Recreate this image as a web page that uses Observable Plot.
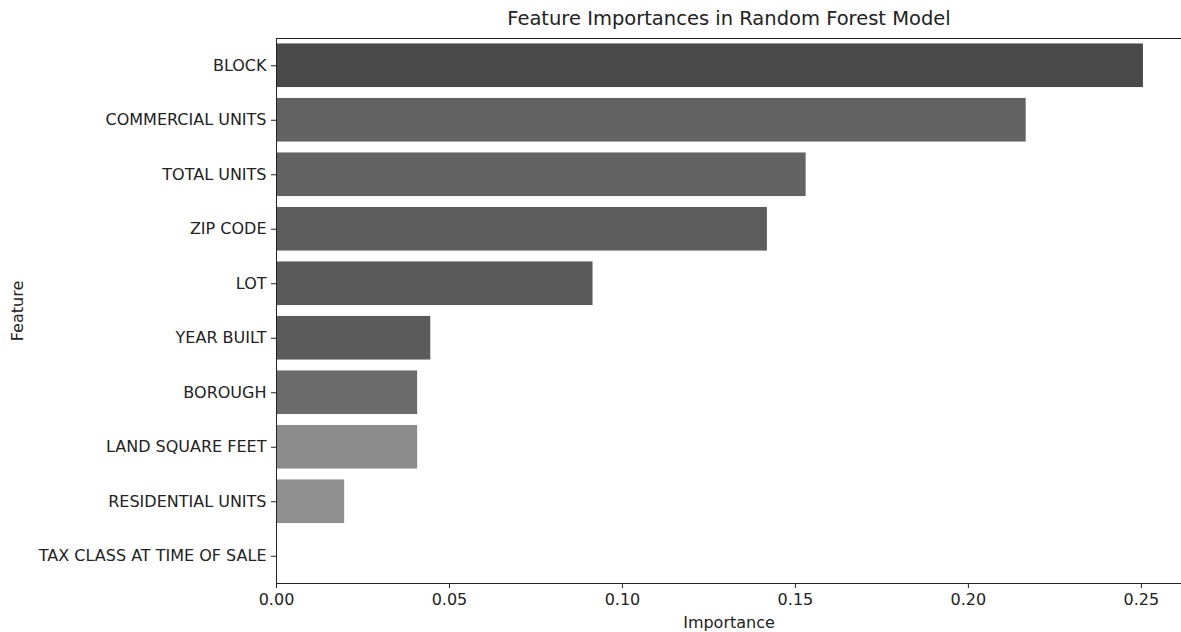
<!DOCTYPE html>
<html>
<head>
<meta charset="utf-8">
<script src="https://cdn.jsdelivr.net/npm/d3@7"></script>
<script src="https://cdn.jsdelivr.net/npm/@observablehq/plot@0.6"></script>
<style>
  html, body { margin: 0; padding: 0; background: #fff; }
</style>
</head>
<body>
<div id="chart"></div>
<script>
const features = ["BLOCK", "COMMERCIAL UNITS", "TOTAL UNITS", "ZIP CODE", "LOT", "YEAR BUILT", "BOROUGH", "LAND SQUARE FEET", "RESIDENTIAL UNITS", "TAX CLASS AT TIME OF SALE"];
const importances = [0.2506, 0.2167, 0.1531, 0.1419, 0.0915, 0.0446, 0.0408, 0.0408, 0.0197, 0.0];
const barColors = ["#4a4a4a", "#626262", "#636363", "#5d5d5d", "#5a5a5a", "#5b5b5b", "#6b6b6b", "#8c8c8c", "#8f8f8f", "#909090"];
const xTicks = [0, 0.05, 0.10, 0.15, 0.20, 0.25];
const titleText = "Feature Importances in Random Forest Model";

const data = features.map((f, i) => ({feature: f, importance: importances[i]}));

const chart = Plot.plot({
  width: 1181,
  height: 632,
  marginLeft: 276,
  marginRight: 0,
  marginTop: 38,
  marginBottom: 49,
  style: {fontFamily: "DejaVu Sans", fontSize: "16px", color: "#222", background: "#fff"},
  x: {domain: [0, 0.2616], ticks: xTicks, tickFormat: d3.format(".2f")},
  y: {domain: features, paddingInner: 0.2, paddingOuter: 0.1, round: false},
  color: {domain: features, range: barColors},
  marks: [
    Plot.barX(data, {x: "importance", y: "feature", fill: "feature"}),
    Plot.frame({anchor: "left", stroke: "#222"}),
    Plot.frame({anchor: "bottom", stroke: "#222"}),
    Plot.frame({anchor: "top", stroke: "#222"}),
    Plot.axisX({ticks: xTicks, tickFormat: d3.format(".2f"), tickSize: 5, tickPadding: 5, label: "Importance", labelAnchor: "center", labelArrow: "none", labelOffset: 44, fontSize: 16}),
    Plot.axisY({tickSize: 5, tickPadding: 5, label: "Feature", labelAnchor: "center", labelArrow: "none", labelOffset: 265, fontSize: 16}),
    Plot.text([titleText], {frameAnchor: "top", dy: -20, lineAnchor: "middle", fontSize: 19.5, fill: "#222"})
  ]
});
document.getElementById("chart").appendChild(chart);
</script>
</body>
</html>
